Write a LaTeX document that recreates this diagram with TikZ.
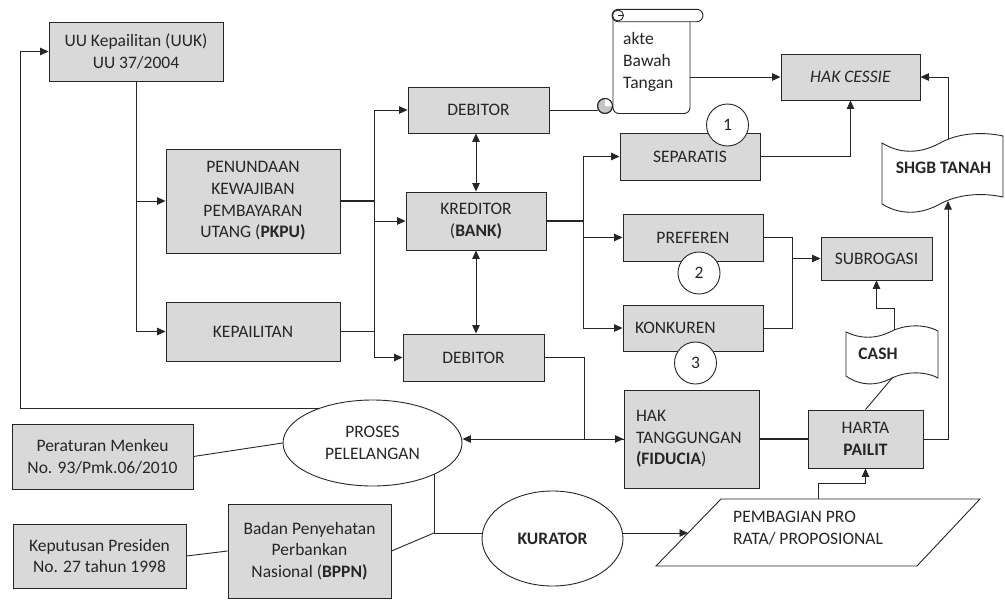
\documentclass[tikz,border=0pt]{standalone}
\usepackage{fontspec}
\setmainfont{Carlito}
\usetikzlibrary{arrows.meta,shapes.geometric,backgrounds}
\definecolor{boxgray}{HTML}{D9D9D9}
\definecolor{edgec}{HTML}{262626}
\begin{document}
\begin{tikzpicture}[x=1pt,y=-1pt,
  every node/.style={font=\fontsize{17.5}{21.7}\selectfont, text=black!85},
  box/.style={draw=edgec, line width=0.9pt, fill=boxgray, inner sep=0pt, align=center},
  lbox/.style={box, align=left, inner xsep=12pt},
  oval/.style={ellipse, draw=edgec, line width=0.9pt, fill=white, inner sep=0pt, align=center},
  num/.style={circle, draw=edgec, line width=0.9pt, fill=white, minimum size=42pt, inner sep=0pt},
  plain/.style={inner sep=0pt, align=left},
  shp/.style={draw=edgec, line width=0.9pt, fill=white},
  conn/.style={draw=edgec, line width=0.9pt},
  thk/.style={draw=edgec, line width=1.6pt},
  arr/.style={conn, -{Triangle[length=8.5pt,width=7.5pt]}},
  darr/.style={conn, {Triangle[length=8.5pt,width=7.5pt]}-{Triangle[length=8.5pt,width=7.5pt]}}
]
\path[use as bounding box] (0,0) rectangle (1005,600);

% ---------- boxes and ovals ----------
\node[box, minimum width=174pt, minimum height=59pt] (uu) at (136,51.5) {UU Kepailitan (UUK)\\UU 37/2004};
\node[box, minimum width=174pt, minimum height=104pt] (pkpu) at (253,201) {PENUNDAAN\\KEWAJIBAN\\PEMBAYARAN\\UTANG (\textbf{PKPU)}};
\node[box, minimum width=174pt, minimum height=59pt] (kep) at (253,331.5) {KEPAILITAN};
\node[box, minimum width=141pt, minimum height=46pt] (deb1) at (478.5,110) {DEBITOR};
\node[box, minimum width=140pt, minimum height=58pt] (kred) at (476,221) {KREDITOR\\(\textbf{BANK)}};
\node[box, minimum width=141pt, minimum height=47pt] (deb2) at (473.5,357.5) {DEBITOR};
\node[box, minimum width=139pt, minimum height=46pt] (hc) at (850.5,77) {\textit{HAK CESSIE}};
\node[box, minimum width=140pt, minimum height=47pt] (sep) at (690,156.5) {SEPARATIS};
\node[box, minimum width=140pt, minimum height=47pt] (pref) at (693,237.5) {PREFEREN};
\node[lbox, text width=116pt, minimum height=46pt] (konk) at (693,328) {KONKUREN};
\node[box, minimum width=111pt, minimum height=43pt] (subro) at (876.5,258.5) {SUBROGASI};
\node[lbox, text width=111pt, minimum height=98pt] (ht) at (691.5,439) {HAK\\TANGGUNGAN\\\textbf{(FIDUCIA})};
\node[box, minimum width=115pt, minimum height=58pt] (harta) at (865.5,439) {HARTA\\\textbf{PAILIT}};
\node[oval, minimum width=179pt, minimum height=86pt] (proses) at (372.5,443) {PROSES\\PELELANGAN};
\node[oval, minimum width=141pt, minimum height=95pt] (kur) at (552.5,538.5) {\textbf{KURATOR}};
\node[box, minimum width=181pt, minimum height=65pt] (perat) at (102.5,456.5) {Peraturan Menkeu\\No. 93/Pmk.06/2010};
\node[box, minimum width=173pt, minimum height=64pt] (kpres) at (99.5,556) {Keputusan Presiden\\No. 27 tahun 1998};
\node[box, minimum width=163pt, minimum height=94pt] (bppn) at (309.5,551) {Badan Penyehatan\\Perbankan\\Nasional (\textbf{BPPN)}};

\node[num] (n1) at (727.5,125) {1};
\node[num] (n2) at (699,273) {2};
\node[num] (n3) at (695.5,363) {3};

% ---------- free coordinates ----------
\coordinate (busL) at (374,0);
\coordinate (busR) at (583,0);
\coordinate (busD) at (584,0);
\coordinate (busS) at (792,0);
\coordinate (loopy) at (20,408);
\coordinate (curl) at (597.5,110);
\coordinate (scrollR) at (690,77);
\coordinate (shgbT) at (948,139);
\coordinate (shgbB) at (948,201);
\coordinate (cashT) at (894,330);
\coordinate (cashB) at (893,377);
\coordinate (j) at (434,533);
\coordinate (paraL) at (688,533);
\coordinate (paraT) at (818,499);

\begin{scope}[on background layer]
% scroll (akte)
\draw[shp, rounded corners=6pt] (613,15) -- (613,113.5) -- (690,113.5) -- (690,15);
\draw[shp, rounded corners=6.2pt] (612,9.3) rectangle (703,21.7);
\draw[shp] (618,15.5) circle (5.5);
\draw[conn] (618,15.5) -- (623.5,15.5);
\draw[draw=edgec, line width=0.9pt, fill=gray!45] (605,106) circle (7.5);
\fill[white] (605,106) -- ++(7,0) arc[start angle=0, end angle=-90, radius=7] -- cycle;
\draw[conn] (605,106) circle (7.5);
% SHGB tape
\draw[shp] (882,143) .. controls (900,154) and (920,154) .. (940,143)
  .. controls (960,132) and (985,132) .. (1003,136) -- (1003,197)
  .. controls (985,193) and (960,193) .. (940,204)
  .. controls (920,215) and (900,215) .. (882,204) -- cycle;
% CASH tape
\draw[shp] (846,332) .. controls (860,339) and (876,339) .. (890,332)
  .. controls (905,324) and (925,324) .. (938,331) -- (938,378)
  .. controls (925,371) and (905,371) .. (890,379)
  .. controls (876,386) and (860,386) .. (846,376) -- cycle;
% parallelogram
\draw[shp] (721,499) -- (980,499) -- (917,566) -- (656,566) -- cycle;

% connectors
\draw[arr] (uu.south) |- (kep.west);
\draw[arr] (uu.south |- pkpu.west) -- (pkpu.west);
\draw[arr] (loopy -| proses) -- (loopy) |- (uu.west);
\draw[thk] (pkpu.east) -- (pkpu.east -| busL);
\draw[thk] (kep.east) -- (kep.east -| busL);
\draw[conn] (busL |- deb1.west) -- (busL |- deb2.west);
\draw[arr] (busL |- deb1.west) -- (deb1.west);
\draw[arr] (busL |- kred.west) -- (kred.west);
\draw[arr] (busL |- deb2.west) -- (deb2.west);
\draw[darr] (kred.north) -- (kred.north |- deb1.south);
\draw[darr] (kred.south) -- (kred.south |- deb2.north);
\draw[thk] (kred.east) -- (kred.east -| busR);
\draw[conn] (busR |- sep.west) -- (busR |- konk.west);
\draw[arr] (busR |- sep.west) -- (sep.west);
\draw[arr] (busR |- pref.west) -- (pref.west);
\draw[arr] (busR |- konk.west) -- (konk.west);
\draw[conn] (deb1.east) -- (curl);
\draw[arr] (scrollR) -- (hc.west);
\draw[arr] (sep.east) -| (hc.south);
\draw[arr] (shgbT) |- (hc.east);
\draw[arr] (harta.east) -| (shgbB);
\draw[conn] (pref.east) -| (busS |- konk.east) -- (konk.east);
\draw[arr] (busS |- subro.west) -- (subro.west);
\draw[arr] (cashT) -- ++(0,-22) -| (subro.south);
\draw[conn] (cashB) -- (harta.north);
\draw[thk] (ht.east) -- (harta.west);
\draw[arr] (deb2.east) -| (busD |- ht.west) -- (ht.west);
\draw[arr] (ht.west) -- (ht.west -| proses.east);
\draw[conn] (perat.east) -- (proses.west);
\draw[conn] (kpres.east) -- (bppn.west);
\draw[conn] (bppn.east) -- (j);
\draw[conn] (j |- proses) -- (j) -- (j -| kur);
\draw[arr] (j -| kur) -- (paraL);
\draw[arr] (paraT) -- ++(0,-16) -| (harta.south);
\end{scope}

% ---------- texts of drawn shapes ----------
\node[plain, anchor=west] (akte) at (623,62) {akte\\Bawah\\Tangan};
\node[inner sep=0pt] (shgb) at (943.5,168) {\textbf{SHGB TANAH}};
\node[inner sep=0pt] (cash) at (878,354) {\textbf{CASH}};
\node[plain, anchor=west] (para) at (733,528) {PEMBAGIAN PRO\\RATA/ PROPOSIONAL};
\end{tikzpicture}
\end{document}
